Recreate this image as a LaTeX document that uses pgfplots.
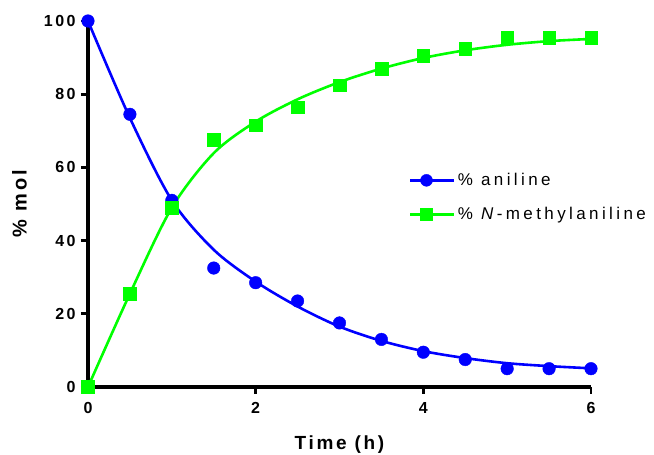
\documentclass[border=0pt]{standalone}
\usepackage{fontspec}
\setmainfont{Liberation Sans}
\newfontfamily\spaced[LetterSpace=20]{Liberation Sans}
\newfontfamily\spacedb[LetterSpace=14]{Liberation Sans}
\newfontfamily\spacedt[LetterSpace=15]{Liberation Sans}
\usepackage{pgfplots}
\pgfplotsset{compat=1.18}
\definecolor{cblue}{RGB}{0,0,255}
\definecolor{cgreen}{RGB}{0,255,0}
\begin{document}
\begin{tikzpicture}
\begin{axis}[
  width=503pt, height=366pt, scale only axis,
  xmin=0, xmax=6, ymin=0, ymax=100,
  axis x line*=bottom, axis y line*=left,
  every outer x axis line/.append style={line width=3.2pt, black, -},
  every outer y axis line/.append style={line width=3.2pt, black, -},
  axis line style={line width=3.2pt, black, -},
  xtick={0,2,4,6}, ytick={0,20,40,60,80,100},
  tick align=outside,
  major tick length=7pt,
  major tick style={line width=2.8pt, black},
  tick style={line width=2.8pt, black},
  /pgf/number format/assume math mode=true,
  ticklabel style={font=\fontsize{16}{19}\selectfont\spacedt\bfseries},
  xticklabel style={yshift=-5pt},
  yticklabel style={xshift=-2pt},
  xlabel={\spacedb\bfseries Time (h)},
  ylabel={\spacedb\bfseries \% mol},
  xlabel style={font=\fontsize{19}{22}\selectfont, at={(axis description cs:0.5,-0.158)}, anchor=center},
  ylabel style={font=\fontsize{20}{23}\selectfont, at={(axis description cs:-0.136,0.5)}, anchor=center},
  clip=false,
  legend style={draw=none, fill=none, at={(axis description cs:0.632,0.595)}, anchor=north west,
    font=\fontsize{17}{20}\selectfont\spaced, row sep=16pt, cells={anchor=west}},
  legend image code/.code={
    \draw[#1, mark repeat=2, mark phase=2] plot coordinates {(0pt,0pt) (16pt,0pt) (32pt,0pt)};
    \path (0pt,0pt) -- (44pt,0pt);
  },
]
\addlegendimage{cblue, line width=2.8pt, mark=*, mark size=6pt, mark options={solid, line width=0.4pt}}
\addlegendentry{\% aniline}
\addlegendimage{cgreen, line width=2.8pt, mark=square*, mark size=6pt, mark options={solid, line width=0.4pt}}
\addlegendentry{\% \textit{N}-methylaniline}

% fitted curves
\addplot[forget plot, cblue, line width=2.6pt, smooth, tension=0.5, no marks] coordinates {
(0,100)(0.5,73.5)(1,51)(1.5,37.5)(2,28.8)(2.5,22)(3,16.5)(3.5,12.6)(4,9.8)(4.5,7.9)(5,6.5)(5.5,5.7)(6,5.1)};
\addplot[forget plot, cgreen, line width=2.6pt, smooth, tension=0.5, no marks] coordinates {
(0,0)(0.5,25.5)(1,49)(1.5,63.9)(2,72.5)(2.5,78.6)(3,83.3)(3.5,87.0)(4,89.9)(4.5,92.0)(5,93.5)(5.5,94.5)(6,95.1)};

% data points
\addplot[forget plot, only marks, mark=*, mark size=6.3pt, cblue, line width=0.4pt] coordinates {
(0,100)(0.5,74.5)(1,51)(1.5,32.5)(2,28.5)(2.5,23.5)(3,17.5)(3.5,13)(4,9.5)(4.5,7.5)(5,5)(5.5,5)(6,5)};
\addplot[forget plot, only marks, mark=square*, mark size=6.3pt, cgreen, line width=0.4pt] coordinates {
(0,0)(0.5,25.5)(1,49)(1.5,67.5)(2,71.5)(2.5,76.5)(3,82.5)(3.5,87)(4,90.5)(4.5,92.5)(5,95.5)(5.5,95.5)(6,95.5)};
\end{axis}
\pgfresetboundingbox
\path (-88pt,-68pt) rectangle (566pt,387pt);
\end{tikzpicture}
\end{document}
